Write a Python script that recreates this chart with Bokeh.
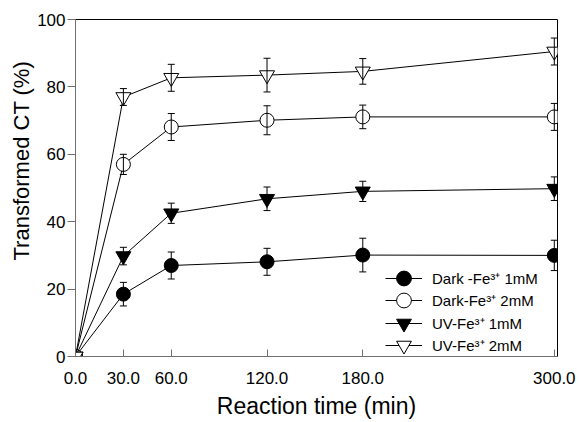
from bokeh.plotting import figure
from bokeh.models import (ColumnDataSource, Whisker, TeeHead, FixedTicker,
                          PrintfTickFormatter, Range1d, Legend, Title)
from bokeh.embed import file_html
from bokeh.resources import INLINE

# ---- data ----
time_min = [0, 30, 60, 120, 180, 300]
x_ticks = [0, 30, 60, 120, 180, 300]
y_ticks = [0, 20, 40, 60, 80, 100]

dark_1mM = [0, 18.5, 27.0, 28.1, 30.1, 30.0]
dark_1mM_err = [0, 3.5, 4.0, 4.0, 5.0, 4.5]
dark_2mM = [0, 57.0, 68.1, 70.1, 71.1, 71.1]
dark_2mM_err = [0, 3.0, 4.0, 4.3, 3.5, 4.0]
uv_1mM = [0, 29.8, 42.5, 46.8, 49.0, 49.8]
uv_1mM_err = [0, 2.6, 3.0, 3.5, 3.0, 3.5]
uv_2mM = [0, 77.0, 82.7, 83.5, 84.6, 90.5]
uv_2mM_err = [0, 2.5, 4.0, 5.0, 3.8, 4.0]

series = [
    ("Dark -Fe\u00b3\u207a 1mM", dark_1mM, dark_1mM_err, "circle", "black"),
    ("Dark-Fe\u00b3\u207a 2mM", dark_2mM, dark_2mM_err, "circle", "white"),
    ("UV-Fe\u00b3\u207a 1mM", uv_1mM, uv_1mM_err, "inverted_triangle", "black"),
    ("UV-Fe\u00b3\u207a 2mM", uv_2mM, uv_2mM_err, "inverted_triangle", "white"),
]

FONT = "Liberation Sans"

p = figure(width=579, height=422, output_backend="svg", toolbar_location=None,
           x_range=Range1d(0, 302), y_range=Range1d(0, 100),
           min_border_left=75, min_border_right=22, min_border_top=19,
           min_border_bottom=66)
p.xgrid.visible = False
p.ygrid.visible = False
p.outline_line_color = "black"
p.outline_line_width = 1
p.background_fill_color = "white"
p.border_fill_color = "white"

# one single-entry legend per series, stacked with a 22.3 px pitch
row_bottoms = [58, 36, 13, -9]

for (label, vals, errs, marker, fill), yb in zip(series, row_bottoms):
    src = ColumnDataSource(dict(
        x=time_min, y=vals,
        upper=[v + e for v, e in zip(vals, errs)],
        lower=[v - e for v, e in zip(vals, errs)],
    ))
    w = Whisker(source=src, base="x", upper="upper", lower="lower",
                line_color="black", line_width=1,
                upper_head=TeeHead(size=7, line_color="black", line_width=1),
                lower_head=TeeHead(size=7, line_color="black", line_width=1),
                level="glyph")
    p.add_layout(w)
    ln = p.line("x", "y", source=src, line_color="black", line_width=1)
    sz = 14 if marker == "circle" else 15
    mk = p.scatter("x", "y", source=src, marker=marker, size=sz,
                   fill_color=fill, line_color="black", line_width=1)
    lg = Legend(items=[(label, [ln, mk])], location=(310, yb))
    lg.border_line_alpha = 0
    lg.background_fill_alpha = 0
    lg.padding = 0
    lg.margin = 0
    lg.spacing = 0
    lg.glyph_width = 37
    lg.glyph_height = 40
    lg.label_height = 20
    lg.label_standoff = 10
    lg.label_text_font = FONT
    lg.label_text_font_size = "15px"
    lg.label_text_color = "black"
    p.add_layout(lg, "center")

# axes
p.xaxis.ticker = FixedTicker(ticks=x_ticks)
p.xaxis.formatter = PrintfTickFormatter(format="%.1f")
p.yaxis.ticker = FixedTicker(ticks=y_ticks)
p.xaxis.axis_label = "Reaction time (min)"
for ax in (p.xaxis[0], p.yaxis[0]):
    ax.axis_line_color = "#707070"
    ax.major_tick_line_color = "#707070"
    ax.minor_tick_line_color = None
    ax.major_label_text_font = FONT
    ax.major_label_text_font_size = "17px"
    ax.major_label_text_color = "black"
    ax.axis_label_text_font = FONT
    ax.axis_label_text_font_size = "23px"
    ax.axis_label_text_font_style = "normal"
    ax.axis_label_text_color = "black"
p.xaxis.major_tick_in = 7
p.xaxis.major_tick_out = 0
p.xaxis.major_label_standoff = 15
p.xaxis.axis_label_standoff = 6
p.yaxis.major_tick_in = 0
p.yaxis.major_tick_out = 8
p.yaxis.major_label_standoff = 2

ytitle = Title(text="Transformed CT (%)", align="left", offset=96,
               standoff=0, text_font=FONT, text_font_size="22px",
               text_font_style="normal", text_color="black",
               vertical_align="middle")
p.add_layout(ytitle, "left")

open("out.html", "w").write(file_html(p, INLINE))
